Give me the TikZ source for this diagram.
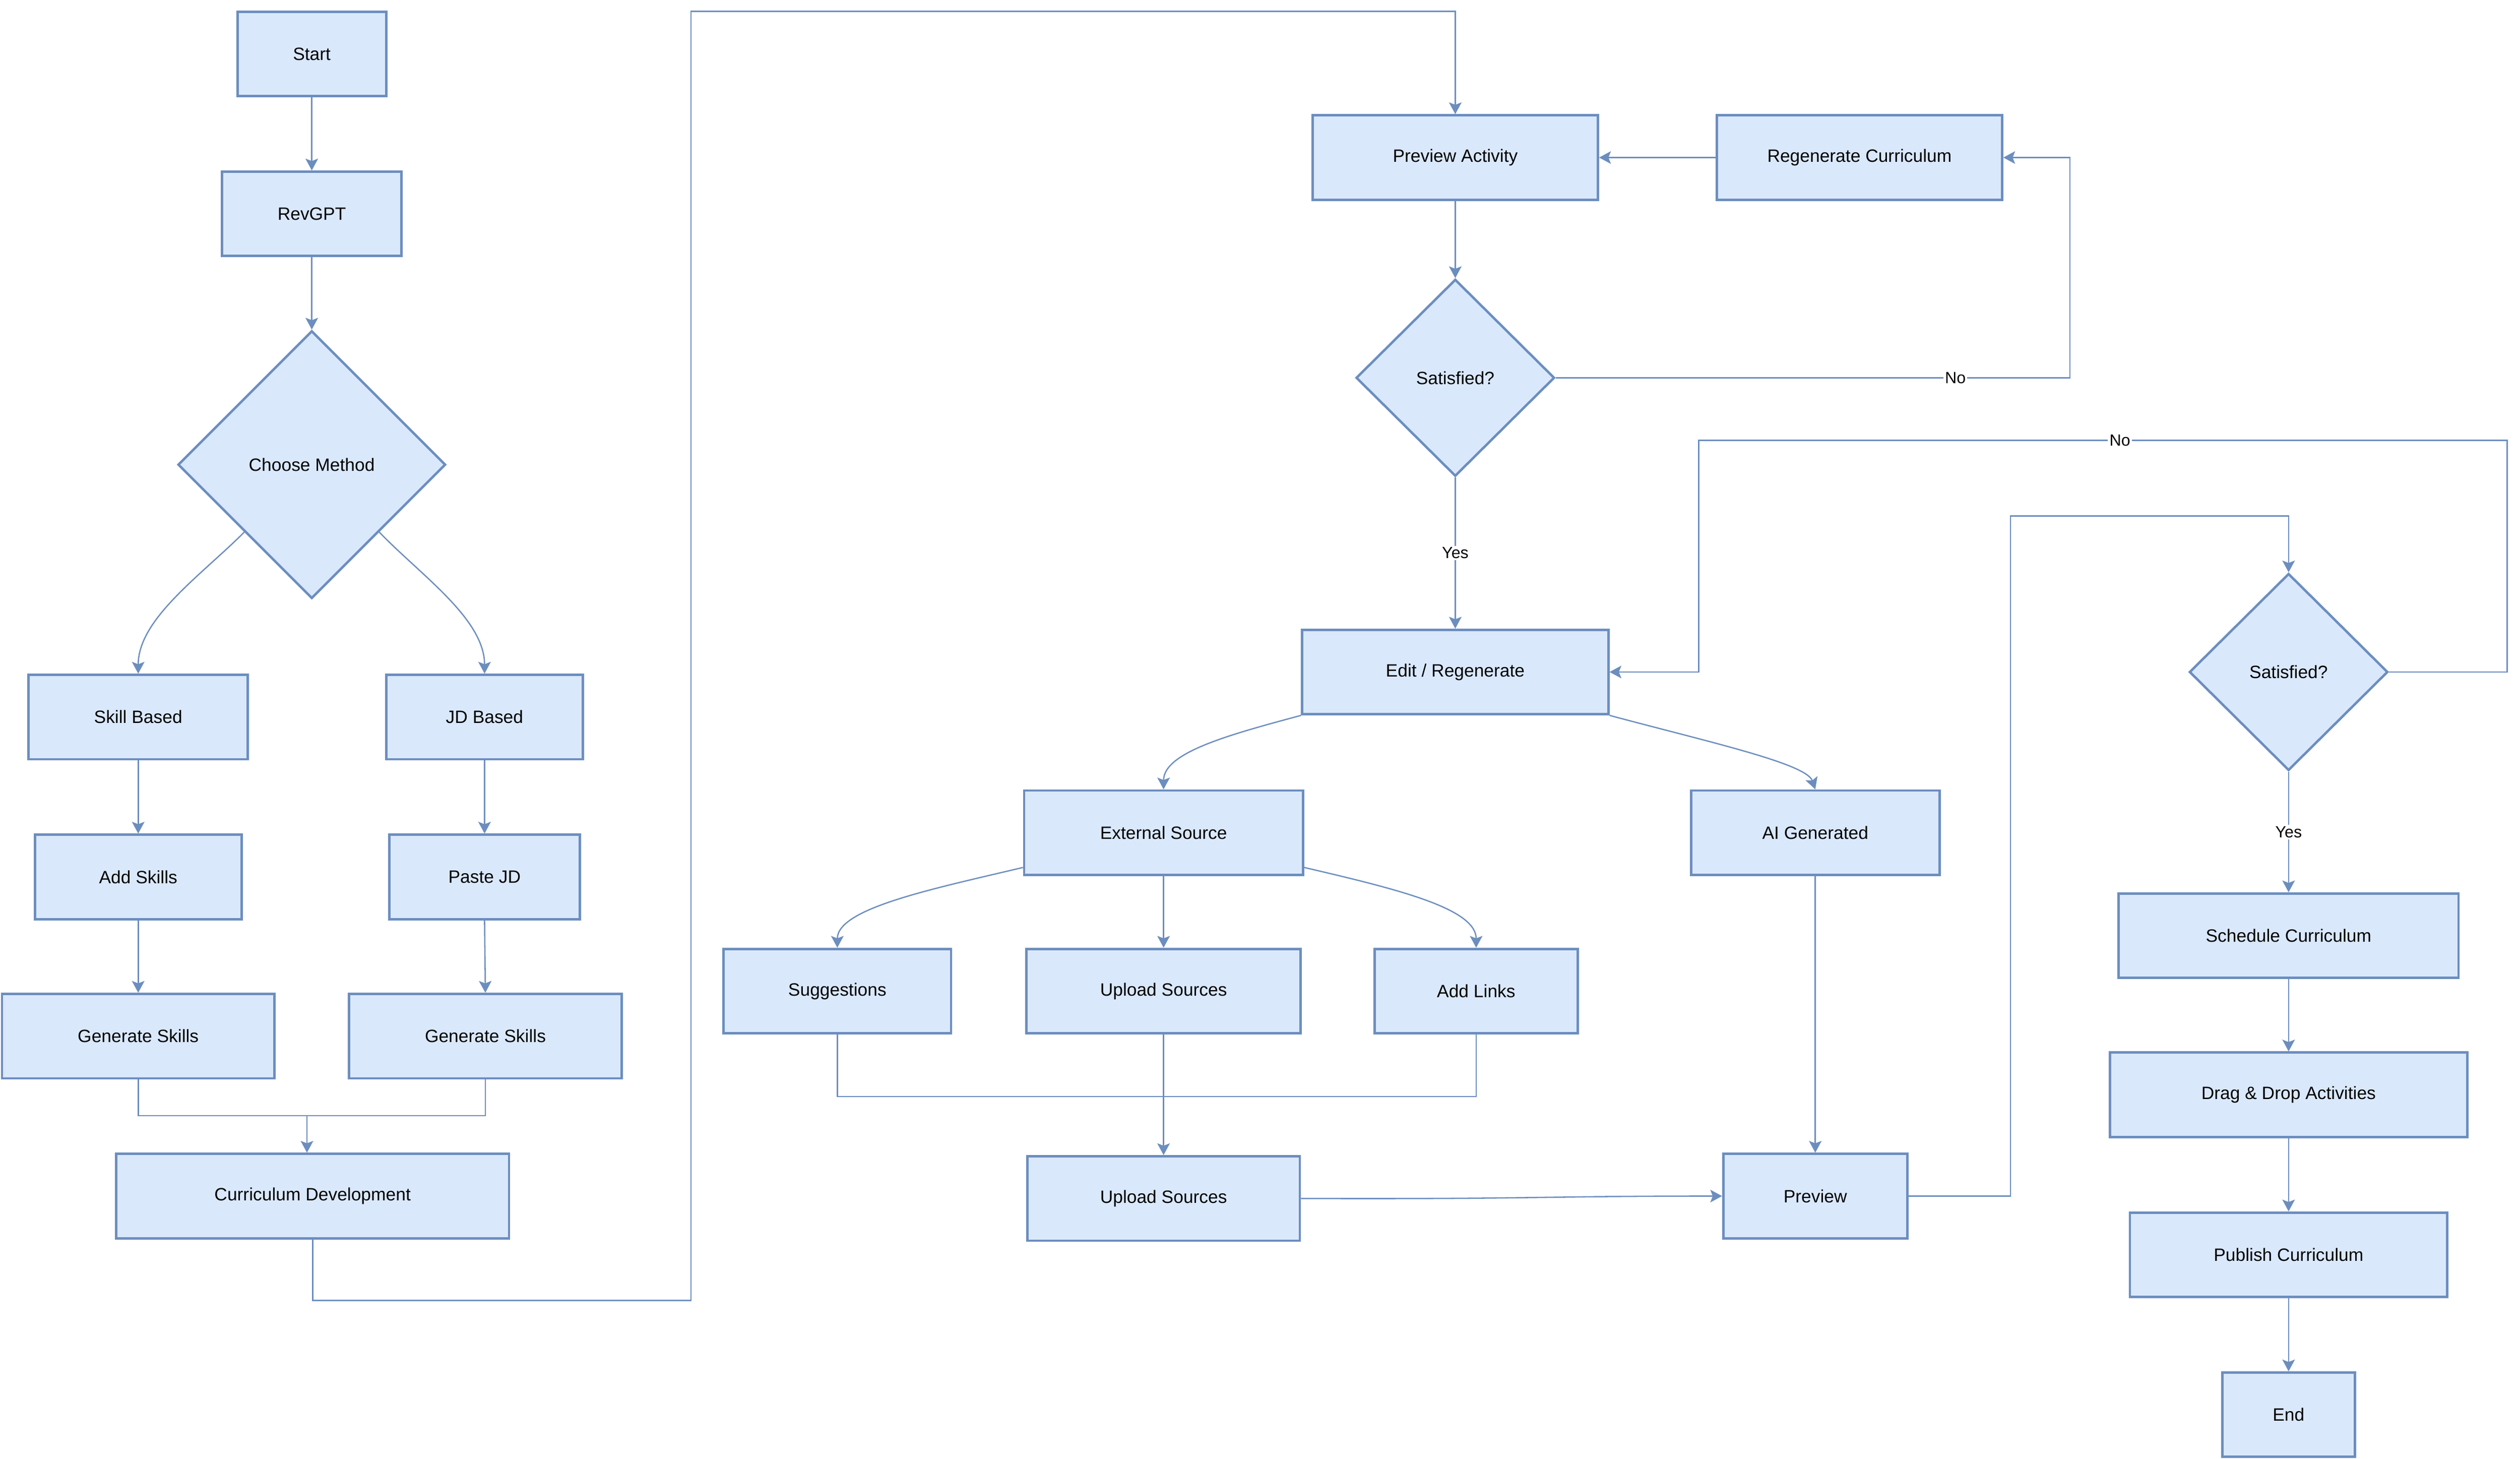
\documentclass[tikz,border=0pt]{standalone}
\usepackage{fontspec}
\setmainfont{Liberation Sans}
\usetikzlibrary{shapes.geometric,arrows.meta,calc}
\definecolor{boxfill}{HTML}{DAE8FC}
\definecolor{boxline}{HTML}{6C8EBF}
\begin{document}
\begin{tikzpicture}[x=1pt,y=-1pt,
  box/.style={draw=boxline, fill=boxfill, line width=1.5pt, minimum height=52.5pt, inner sep=2pt, font=\fontsize{11.1}{13.3}\selectfont},
  dec/.style={diamond, draw=boxline, fill=boxfill, line width=1.5pt, inner sep=0pt, font=\fontsize{11.1}{13.3}\selectfont},
  conn/.style={draw=boxline, line width=0.8pt, -{Stealth[length=7.3pt,width=7.8pt,inset=1.5pt]}},
  plain/.style={draw=boxline, line width=0.8pt},
  lab/.style={fill=white, inner sep=1pt, font=\fontsize{10.1}{12}\selectfont}]
\useasboundingbox (0,0) rectangle (1568,907.5);

% left column
\node[box, minimum width=92.5pt] (start) at (194,33.5) {Start};
\node[box, minimum width=111.5pt] (rev) at (194,133) {RevGPT};
\node[dec, minimum width=166.5pt, minimum height=166.5pt] (cm) at (194,289) {Choose Method};
\node[box, minimum width=136.5pt] (skill) at (86,446) {Skill Based};
\node[box, minimum width=122.5pt] (jd) at (301.5,446) {JD Based};
\node[box, minimum width=128.5pt] (adds) at (86,545.5) {Add Skills};
\node[box, minimum width=118.5pt] (paste) at (301.5,545.5) {Paste JD};
\node[box, minimum width=169.5pt] (gs1) at (86,644.5) {Generate Skills};
\node[box, minimum width=169.5pt] (gs2) at (302,644.5) {Generate Skills};
\node[box, minimum width=244.5pt] (cd) at (194.5,744) {Curriculum Development};

% middle column
\node[box, minimum width=177.5pt] (pa) at (905.5,98) {Preview Activity};
\node[box, minimum width=177.5pt] (rc) at (1157,98) {Regenerate Curriculum};
\node[dec, minimum width=123.5pt, minimum height=122.5pt] (s1) at (905.5,235) {Satisfied?};
\node[box, minimum width=190.5pt] (edit) at (905.5,418) {Edit / Regenerate};
\node[box, minimum width=173.5pt] (ext) at (724,518) {External Source};
\node[box, minimum width=154.5pt] (ai) at (1129.5,518) {AI Generated};
\node[box, minimum width=141.5pt] (sug) at (521,616.5) {Suggestions};
\node[box, minimum width=170.5pt] (us1) at (724,616.5) {Upload Sources};
\node[box, minimum width=126.5pt] (al) at (918.5,616.5) {Add Links};
\node[box, minimum width=169.5pt] (us2) at (724,745.5) {Upload Sources};
\node[box, minimum width=114.5pt] (pv) at (1129.5,744) {Preview};

% right column
\node[dec, minimum width=123.5pt, minimum height=122.5pt] (s2) at (1424,418) {Satisfied?};
\node[box, minimum width=211.5pt] (sched) at (1424,582) {Schedule Curriculum};
\node[box, minimum width=222.5pt] (drag) at (1424,681) {Drag \& Drop Activities};
\node[box, minimum width=197.5pt] (pub) at (1424,780.5) {Publish Curriculum};
\node[box, minimum width=82.5pt] (end) at (1424,880) {End};

% waypoints
\coordinate (m1) at (191,694);
\coordinate (c1) at (194.5,809);
\coordinate (c2) at (430,809);
\coordinate (c3) at (430,7);
\coordinate (w1) at (1288,235);
\coordinate (m2) at (724,682);
\coordinate (w3) at (1251,321);
\coordinate (w4) at (1560,274);
\coordinate (w5) at (1057,274);

% connectors
\draw[conn] (start) -- (rev);
\draw[conn] (rev) -- (cm);
\draw[conn] ($(cm.west)!0.5!(cm.south)$) .. controls (125,358) and (86,385) .. (skill.north);
\draw[conn] ($(cm.east)!0.5!(cm.south)$) .. controls (262,358) and (301.5,385) .. (jd.north);
\draw[conn] (skill) -- (adds);
\draw[conn] (jd) -- (paste);
\draw[conn] (adds) -- (gs1);
\draw[conn] (paste.south) -- (gs2.north);
\draw[plain] (gs2.south) |- (m1);
\draw[conn] (gs1.south) |- (m1) -- (m1 |- cd.north);

\draw[conn] (cd.south) -- (c1) -- (c2) -- (c3) -| (pa.north);
\draw[conn] (rc) -- (pa);
\draw[conn] (pa) -- (s1);
\draw[conn] (s1.east) -- node[lab, pos=0.777] {No} (w1) |- (rc.east);
\draw[conn] (s1) -- node[lab] {Yes} (edit);

\draw[conn] (edit.south west) .. controls (765,457) and (724,468) .. (ext.north);
\draw[conn] (edit.south east) .. controls (1065,462) and (1124,475) .. (ai.north);
\draw[conn] ($(ext.south west)!0.1!(ext.north west)$) .. controls (580,553) and (521,565) .. (sug.north);
\draw[conn] (ext) -- (us1);
\draw[conn] ($(ext.south east)!0.1!(ext.north east)$) .. controls (869,553) and (918.5,565) .. (al.north);
\draw[plain] (sug.south) |- (m2);
\draw[plain] (al.south) |- (m2);
\draw[conn] (us1) -- (us2);
\draw[conn] (us2.east) .. controls (950,746) and (960,744) .. (pv.west);
\draw[conn] (ai) -- (pv);

\draw[conn] (pv.east) -| (w3) -| (s2.north);
\draw[conn] (s2.east) -| (w4) -- node[lab, pos=0.479] {No} (w5) |- (edit.east);
\draw[conn] (s2) -- node[lab] {Yes} (sched);
\draw[conn] (sched) -- (drag);
\draw[conn] (drag) -- (pub);
\draw[conn] (pub) -- (end);
\end{tikzpicture}
\end{document}
